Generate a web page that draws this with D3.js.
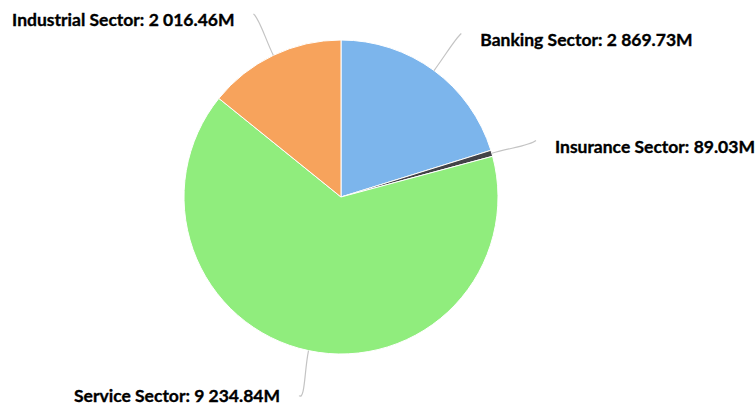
<!DOCTYPE html>
<html>
<head>
<meta charset="utf-8">
<script src="https://cdn.jsdelivr.net/npm/d3@7"></script>
<style>
  html, body { margin: 0; padding: 0; background: #ffffff; }
  svg { display: block; }
</style>
</head>
<body>
<svg id="chart" width="756" height="405"></svg>
<script>
// Sector totals, in millions
const sectors = ["Banking Sector", "Insurance Sector", "Service Sector", "Industrial Sector"];
const amounts = [2869.73, 89.03, 9234.84, 2016.46];
const sliceColors = ["#7cb5ec", "#434348", "#90ed7d", "#f7a35c"];

const width = 756, height = 405;
const cx = 341, cy = 197, radius = 157;
const connectorReach = 46;   // how far past the rim the connector ends
const labelGap = 19;         // horizontal gap between connector end and text
const fontSize = 17.5;

const locale = d3.formatLocale({ decimal: ".", thousands: " ", grouping: [3], currency: ["", ""] });
const fmt = locale.format(",.2f");

const rows = sectors.map((name, i) => ({ name, value: amounts[i], color: sliceColors[i] }));

const svg = d3.select("#chart");
const g = svg.append("g").attr("transform", `translate(${cx},${cy})`);

const pie = d3.pie().value(d => d.value).sort(null);
const arcs = pie(rows);
const arc = d3.arc().innerRadius(0).outerRadius(radius);

// slices
g.selectAll("path.slice")
  .data(arcs)
  .join("path")
  .attr("class", "slice")
  .attr("d", arc)
  .attr("fill", d => d.data.color)
  .attr("stroke", "#ffffff")
  .attr("stroke-width", 1)
  .attr("stroke-linejoin", "round");

const polar = (rad, a) => [rad * Math.sin(a), -rad * Math.cos(a)];

// connectors and labels
const labels = arcs.map(d => {
  const mid = (d.startAngle + d.endAngle) / 2;
  const side = Math.sin(mid) >= 0 ? 1 : -1;
  const p0 = polar(radius, mid);
  const c1 = polar(radius + 20, mid);
  const end = polar(radius + connectorReach, mid);
  const c2 = [end[0] - side * 6, end[1] + 5];
  // keep the text box inside the drawing area
  const ty = Math.max(-cy + fontSize * 0.65, Math.min(end[1] + 6, height - cy - fontSize * 0.5));
  return { d, mid, side, p0, c1, c2, end, ty };
});

g.selectAll("path.connector")
  .data(labels)
  .join("path")
  .attr("class", "connector")
  .attr("d", l => `M${l.p0[0]},${l.p0[1]} C${l.c1[0]},${l.c1[1]} ${l.c2[0]},${l.c2[1]} ${l.end[0]},${l.end[1]}`)
  .attr("fill", "none")
  .attr("stroke", "#c4c4c4")
  .attr("stroke-width", 1.2);

g.selectAll("text.label")
  .data(labels)
  .join("text")
  .attr("class", "label")
  .attr("x", l => l.end[0] + l.side * labelGap)
  .attr("y", l => l.ty)
  .attr("dy", "0.35em")
  .attr("text-anchor", l => l.side > 0 ? "start" : "end")
  .attr("font-family", "Lato, 'Open Sans', sans-serif")
  .attr("font-weight", "bold")
  .attr("font-size", fontSize)
  .attr("fill", "#000000")
  .attr("stroke", "#000000")
  .attr("stroke-width", 0.35)
  .text(l => `${l.d.data.name}: ${fmt(l.d.data.value)}M`);
</script>
</body>
</html>
